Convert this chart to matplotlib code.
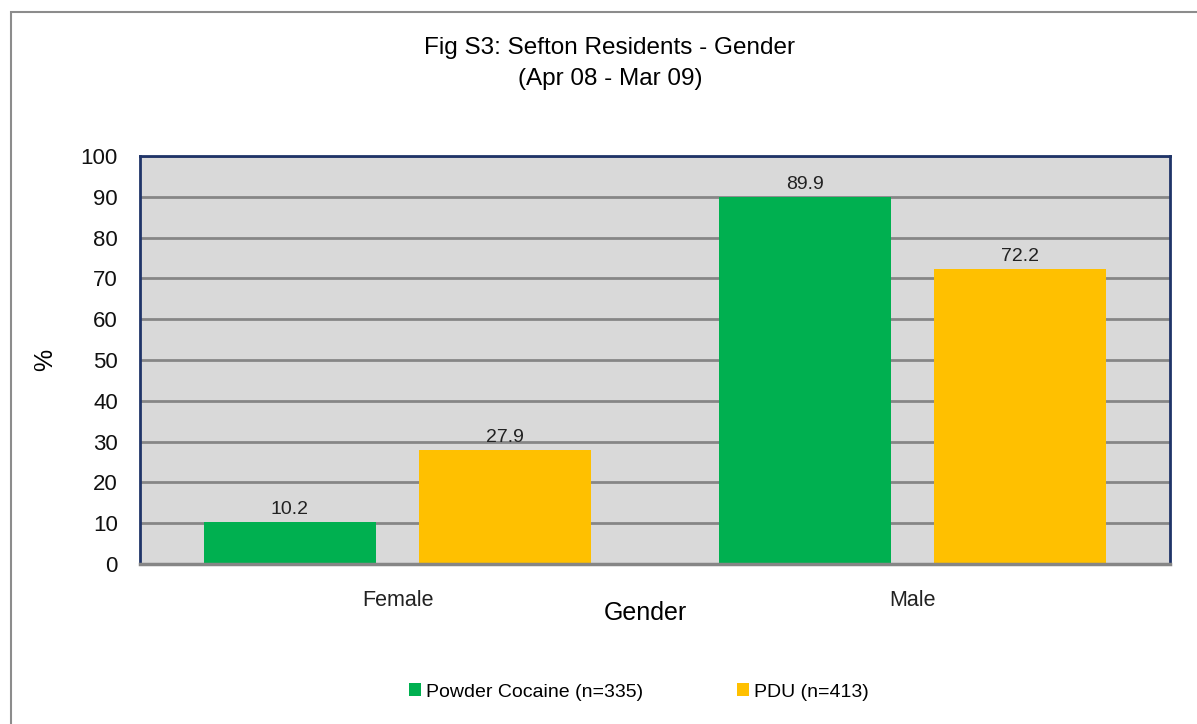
"""Grouped bar chart: Sefton residents by gender, powder cocaine vs PDU."""

import numpy as np
import matplotlib.pyplot as plt
from matplotlib.patches import Rectangle

categories = ['Female', 'Male']
cocaine_values = [10.2, 89.9]
pdu_values = [27.9, 72.2]
series_names = ['Powder Cocaine (n=335)', 'PDU (n=413)']
y_ticks = [0, 10, 20, 30, 40, 50, 60, 70, 80, 90, 100]

GREEN = '#00B050'
YELLOW = '#FFC000'
PLOT_BG = '#D9D9D9'
GRID_GREY = '#868686'
NAVY = '#1F3468'

plt.rcParams['font.family'] = ['Liberation Sans', 'DejaVu Sans']

fig = plt.figure(figsize=(11.97, 7.24), dpi=100)
W, H = 1197.0, 724.0

# outer chart border (runs off the right and bottom edges)
fig.patches.append(Rectangle((11 / W, -0.05), 1.1, 1 - 12 / H + 0.05,
                             transform=fig.transFigure, fill=False,
                             edgecolor='#8C8C8C', linewidth=1.5))

ax = fig.add_axes([140 / W, 1 - 564 / H, 1030 / W, 408 / H])
ax.set_facecolor(PLOT_BG)

x = np.arange(len(categories))
bar_width = 0.334
offset = 0.209
green_bars = ax.bar(x - offset, cocaine_values, bar_width, color=GREEN,
                    label=series_names[0], zorder=3)
yellow_bars = ax.bar(x + offset, pdu_values, bar_width, color=YELLOW,
                     label=series_names[1], zorder=3)

for bars in (green_bars, yellow_bars):
    for bar in bars:
        h = bar.get_height()
        ax.text(bar.get_x() + bar.get_width() / 2, h + 1.0, f'{h:.1f}',
                ha='center', va='bottom', fontsize=14, color='#222222',
                zorder=4)

ax.set_xlim(-0.5, 1.5)
ax.set_ylim(0, 100)
ax.set_yticks(y_ticks)
ax.set_yticklabels([str(t) for t in y_ticks], fontsize=16, color='#111111')
ax.set_xticks(x)
ax.set_xticklabels(categories, fontsize=15.5, color='#222222')
ax.tick_params(axis='both', length=0)
ax.tick_params(axis='y', pad=16)
ax.tick_params(axis='x', pad=19)

ax.yaxis.grid(True, color=GRID_GREY, linewidth=2, zorder=1)
ax.set_axisbelow(True)

for side in ('top', 'left', 'right'):
    ax.spines[side].set_color(NAVY)
    ax.spines[side].set_linewidth(2)
ax.spines['bottom'].set_color(GRID_GREY)
ax.spines['bottom'].set_linewidth(2.5)
ax.spines['bottom'].set_zorder(5)

fig.text(610 / W, 1 - 48 / H, 'Fig S3: Sefton Residents - Gender',
         ha='center', va='center', fontsize=17.5, color='#000000')
fig.text(610 / W, 1 - 79 / H, '(Apr 08 - Mar 09)',
         ha='center', va='center', fontsize=17.5, color='#000000')
fig.text(645 / W, 1 - 613 / H, 'Gender', ha='center', va='center',
         fontsize=18, color='#000000')
fig.text(45 / W, 1 - 360 / H, '%', ha='center', va='center',
         fontsize=18, rotation=90, color='#000000')

fig.legend(handles=[green_bars, yellow_bars], labels=series_names,
           loc='center', bbox_to_anchor=(639 / W, 1 - 692 / H), ncol=2,
           frameon=False, fontsize=14, handlelength=0.6, handleheight=0.6,
           handletextpad=0.3, columnspacing=4.8)

fig.savefig('out.png', dpi=100)
